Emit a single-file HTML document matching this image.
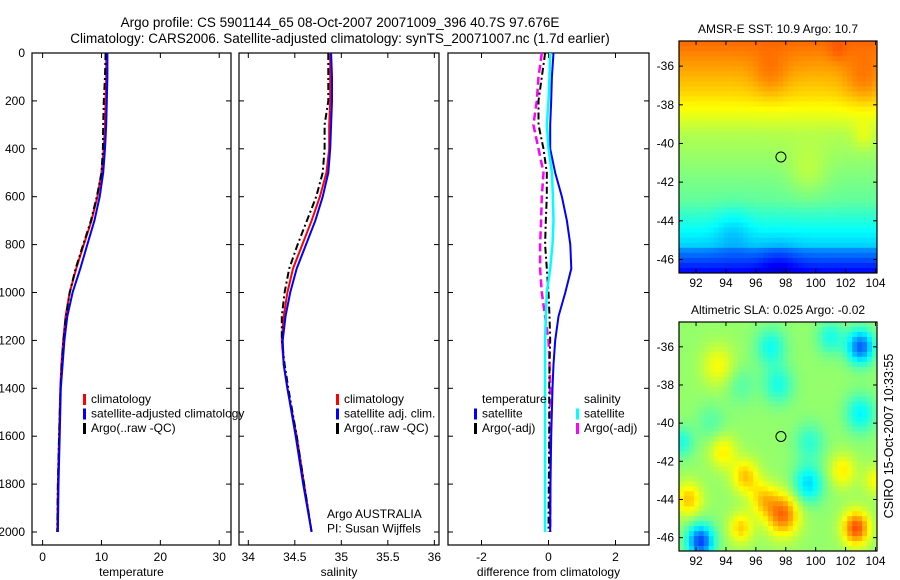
<!DOCTYPE html>
<html><head><meta charset="utf-8"><style>
body{margin:0;background:#fff;}
svg{display:block;font-family:"Liberation Sans",sans-serif;}
</style></head><body>
<svg id="fig" width="900" height="580" viewBox="0 0 900 580" xmlns="http://www.w3.org/2000/svg">
<text x="340" y="27" font-size="13.5" text-anchor="middle">Argo profile: CS 5901144_65 08-Oct-2007 20071009_396 40.7S 97.676E</text>
<text x="340" y="43" font-size="13.5" text-anchor="middle">Climatology: CARS2006. Satellite-adjusted climatology: synTS_20071007.nc (1.7d earlier)</text>
<text transform="translate(893,436) rotate(-90)" font-size="12.5" text-anchor="middle">CSIRO 15-Oct-2007 10:33:55</text>
</svg>
<script>
const depths = [0,100,200,300,400,500,600,700,800,900,1000,1100,1200,1300,1400,1600,1800,2000];
const tClim  = [10.8,10.8,10.7,10.6,10.4,10.0,9.3,8.3,7.0,5.7,4.6,3.9,3.5,3.2,3.0,2.8,2.6,2.5];
const tSat   = [11.0,11.0,10.9,10.8,10.6,10.3,9.7,8.8,7.6,6.4,5.1,4.2,3.7,3.4,3.1,2.9,2.7,2.6];
const tArgo  = [10.7,10.6,10.4,10.3,10.25,10.0,9.2,8.2,6.9,5.6,4.6,3.95,3.55,3.25,3.05,2.8,2.6,2.5];
const sClim  = [34.88,34.88,34.88,34.87,34.87,34.84,34.77,34.68,34.58,34.48,34.42,34.38,34.36,34.38,34.42,34.52,34.60,34.68];
const sSat   = [34.89,34.90,34.90,34.89,34.88,34.86,34.80,34.72,34.62,34.52,34.45,34.40,34.37,34.38,34.42,34.51,34.59,34.68];
const sArgo  = [34.86,34.86,34.86,34.82,34.82,34.80,34.73,34.63,34.53,34.44,34.39,34.36,34.36,34.39,34.43,34.52,34.60,34.68];
const dTSat  = [0.15,0.1,0.08,0.05,0.05,0.2,0.4,0.55,0.65,0.68,0.5,0.3,0.2,0.15,0.12,0.08,0.06,0.05];
const dTArgo = [-0.1,-0.2,-0.3,-0.3,-0.15,-0.05,-0.05,-0.08,-0.1,-0.05,0,0.03,0.05,0.03,0.02,0.02,0.01,0];
const dSSat  = [0.05,0.03,0.0,-0.05,0.0,0.1,0.13,0.15,0.12,0.05,-0.05,-0.08,-0.1,-0.1,-0.1,-0.1,-0.1,-0.1];
const dSArgo = [-0.2,-0.3,-0.35,-0.45,-0.3,-0.15,-0.2,-0.22,-0.25,-0.25,-0.2,-0.1,0,0.03,0.05,0.05,0.05,0.05];
const depthTicks = [0,200,400,600,800,1000,1200,1400,1600,1800,2000];
const tempTicks = [0,10,20,30];
const salTicks = [34,34.5,35,35.5,36];
const diffTicks = [-2,0,2];
const lonTicks = [92,94,96,98,100,102,104];
const latTicks = [-36,-38,-40,-42,-44,-46];
const argoLon = 97.676, argoLat = -40.7;
// SST anomaly blobs [lon, lat, amplitude, radius]
const sstBlobs = [[97,-36.5,0.05,1.2],[103.2,-36.8,0.06,1.3],[103.2,-39.6,0.05,0.7],[99.5,-41.5,0.05,1.3],[94.5,-44.5,-0.05,1.2],[97.5,-46.3,-0.05,1.3],[101.5,-35.2,0.03,0.6]];
const slaBlobs = [[97,-36,-0.13,1.0],[103,-36,-0.3,0.9],[97.5,-38,-0.12,1.0],[103,-39.5,-0.15,1.0],[99.5,-43.2,-0.18,1.0],[92.3,-46.2,-0.33,0.9],[99.6,-41,-0.1,1.0],[91,-41,-0.12,0.8],[101,-35.5,-0.12,0.9],[93.8,-41.5,0.12,0.9],[95.3,-42.8,0.16,0.9],[96.5,-44,0.14,0.9],[97.8,-44.8,0.25,1.1],[102.7,-45.5,0.28,0.9],[91.5,-44,0.16,0.9],[95,-45.5,0.15,0.8],[93.5,-37,0.1,1.1],[101.8,-42.5,0.12,0.9],[104,-43,0.1,0.8],[95,-38,-0.06,1.0],[93,-40,-0.06,1.0]];

const NS='http://www.w3.org/2000/svg';
const svg=document.getElementById('fig');
function el(tag,attrs,parent){const e=document.createElementNS(NS,tag);for(const k in attrs)e.setAttribute(k,attrs[k]);(parent||svg).appendChild(e);return e;}
function scale(d0,d1,r0,r1){return v=>r0+(v-d0)*(r1-r0)/(d1-d0);}

function jet(v){v=Math.max(0,Math.min(1,v));
  const r=Math.max(0,Math.min(1,1.5-Math.abs(4*v-3))),g=Math.max(0,Math.min(1,1.5-Math.abs(4*v-2))),b=Math.max(0,Math.min(1,1.5-Math.abs(4*v-1)));
  return `rgb(${Math.round(r*255)},${Math.round(g*255)},${Math.round(b*255)})`;}

function profilePanel(name,x0,x1,xmin,xmax,xticks,xlabel,showY){
  const X=scale(xmin,xmax,x0,x1), Y=scale(0,2000,53,532);
  const g=el('g',{});
  
  
  const box=el('rect',{x:x0,y:53,width:x1-x0,height:492,fill:'none',stroke:'#000','stroke-width':1.2},g);
  
  
  depthTicks.forEach(d=>{
    el('line',{x1:x0,x2:x0+5,y1:Y(d),y2:Y(d),stroke:'#000'},g);
    el('line',{x1:x1,x2:x1-5,y1:Y(d),y2:Y(d),stroke:'#000'},g);
    if(showY){const t=el('text',{x:x0-7,y:Y(d)+4,'font-size':12,'text-anchor':'end'},g);t.textContent=d;
      
      }
  });
  xticks.forEach(v=>{
    el('line',{x1:X(v),x2:X(v),y1:545,y2:540,stroke:'#000'},g);
    el('line',{x1:X(v),x2:X(v),y1:53,y2:58,stroke:'#000'},g);
    const t=el('text',{x:X(v),y:561,'font-size':12,'text-anchor':'middle'},g);t.textContent=v;
    
    
  });
  const xl=el('text',{x:(x0+x1)/2,y:576,'font-size':12,'text-anchor':'middle'},g);xl.textContent=xlabel;
  
  
  return {g,X,Y};
}
function line(p,vals,color,w,dash,name){
  const pts=vals.map((v,i)=>p.X(v).toFixed(1)+','+p.Y(depths[i]).toFixed(1)).join(' ');
  const l=el('polyline',{points:pts,fill:'none',stroke:color,'stroke-width':w},p.g);
  if(dash)l.setAttribute('stroke-dasharray',dash);
  
  
}
function legend(g,x,y,entries){
  entries.forEach((e,i)=>{
    const yy=y+i*14.5;
    if(e[1]){const m=el('rect',{x:x,y:yy-9,width:3,height:11,fill:e[1]},g);
      
      }
    const t=el('text',{x:x+8,y:yy,'font-size':12},g);t.textContent=e[0];
    
    
  });
}

const p1=profilePanel('temperature-panel',32,231,-1.8,32,tempTicks,'temperature',true);
line(p1,tClim,'#f00',2,null,'temp-climatology-line');
line(p1,tArgo,'#000',2,'7,3,2,3','temp-argo-line');
line(p1,tSat,'#00f',2,null,'temp-satellite-line');
legend(p1.g,83,403,[['climatology','#f00'],['satellite-adjusted climatology','#00f'],['Argo(..raw -QC)','#000']]);

const p2=profilePanel('salinity-panel',239,439,33.9,36.05,salTicks,'salinity',false);
line(p2,sClim,'#f00',2,null,'sal-climatology-line');
line(p2,sArgo,'#000',2,'7,3,2,3','sal-argo-line');
line(p2,sSat,'#00f',2,null,'sal-satellite-line');
legend(p2.g,336,403,[['climatology','#f00'],['satellite adj. clim.','#00f'],['Argo(..raw -QC)','#000']]);
legend(p2.g,319,518,[['Argo AUSTRALIA',null],['PI: Susan Wijffels',null]]);

const p3=profilePanel('difference-panel',448,649,-3,3,diffTicks,'difference from climatology',false);
line(p3,dSArgo,'#f0f',2.5,'8,4','sal-diff-argo-line');
line(p3,dTArgo,'#000',2,'7,3,2,3','temp-diff-argo-line');
line(p3,dTSat,'#00f',2,null,'temp-diff-satellite-line');
line(p3,dSSat,'#0ff',2.5,null,'sal-diff-satellite-line');
legend(p3.g,474,403,[['temperature',null],['satellite','#00f'],['Argo(-adj)','#000']]);
legend(p3.g,576,403,[['salinity',null],['satellite','#0ff'],['Argo(-adj)','#f0f']]);

function mapPanel(name,y0,y1,title,field){
  const x0=679,x1=877,lon0=90.86,lon1=104.1,lat0=-34.7,lat1=-46.7;
  const X=scale(lon0,lon1,x0,x1),Y=scale(lat0,lat1,y0,y1);
  const g=el('g',{});
  
  
  const nx=40,ny=46,cw=(x1-x0)/nx,ch=(y1-y0)/ny;
  for(let i=0;i<nx;i++)for(let j=0;j<ny;j++){
    const lon=lon0+(i+0.5)*(lon1-lon0)/nx,lat=lat0+(j+0.5)*(lat1-lat0)/ny;
    el('rect',{x:(x0+i*cw).toFixed(2),y:(y0+j*ch).toFixed(2),width:(cw+0.4).toFixed(2),height:(ch+0.4).toFixed(2),fill:jet(field(lon,lat))},g);
  }
  const fr=el('rect',{x:x0,y:y0,width:x1-x0,height:y1-y0,fill:'none',stroke:'#000','stroke-width':1.2},g);
  
  
  lonTicks.forEach(v=>{el('line',{x1:X(v),x2:X(v),y1:y1,y2:y1-4,stroke:'#000'},g);el('line',{x1:X(v),x2:X(v),y1:y0,y2:y0+4,stroke:'#000'},g);
    const t=el('text',{x:X(v),y:y1+14,'font-size':12,'text-anchor':'middle'},g);t.textContent=v;
    
    });
  latTicks.forEach(v=>{el('line',{x1:x0,x2:x0+4,y1:Y(v),y2:Y(v),stroke:'#000'},g);el('line',{x1:x1,x2:x1-4,y1:Y(v),y2:Y(v),stroke:'#000'},g);
    const t=el('text',{x:x0-5,y:Y(v)+4,'font-size':12,'text-anchor':'end'},g);t.textContent=v;
    
    });
  const c=el('circle',{cx:X(argoLon),cy:Y(argoLat),r:5,fill:'none',stroke:'#000','stroke-width':1},g);
  
  
  const t=el('text',{x:(x0+x1)/2,y:y0-8,'font-size':12,'text-anchor':'middle'},g);t.textContent=title;
  
  
}
function blobSum(blobs,lon,lat){let s=0;blobs.forEach(b=>{const d2=((lon-b[0])**2+(lat-b[1])**2)/(b[3]*b[3]);s+=b[2]*Math.exp(-d2);});return s;}
function sstField(lon,lat){
  let v;
  if(lat>-37.5)v=0.66+(lat+37.5)*0.04;
  else if(lat>-39.5)v=0.55+(lat+39.5)*0.055;
  else if(lat>-43)v=0.47+(lat+43)*0.023;
  else if(lat>-45.3)v=0.33+(lat+45.3)*0.06;
  else v=0.12+(lat+46.7)*0.12;
  return v+blobSum(sstBlobs,lon,lat);
}
function slaField(lon,lat){return 0.52+blobSum(slaBlobs,lon,lat);}
mapPanel('sst-map',41,273,'AMSR-E SST: 10.9 Argo: 10.7',sstField);
mapPanel('sla-map',322,551,'Altimetric SLA: 0.025 Argo: -0.02',slaField);
</script>
</body></html>
